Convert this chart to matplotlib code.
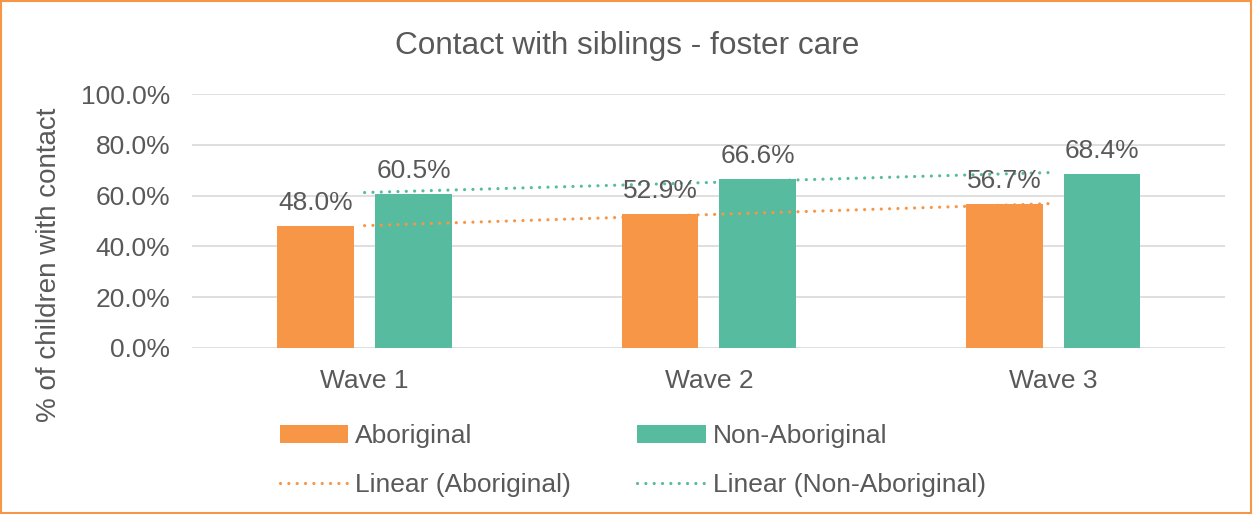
import numpy as np
import matplotlib.pyplot as plt
from matplotlib.patches import Rectangle

plt.rcParams['font.family'] = ['Liberation Sans', 'DejaVu Sans']

waves = ['Wave 1', 'Wave 2', 'Wave 3']
aboriginal = [48.0, 52.9, 56.7]
non_aboriginal = [60.5, 66.6, 68.4]
yticks = [0, 20, 40, 60, 80, 100]

c_abo = '#F79646'
c_non = '#57BB9F'
c_txt = '#595959'

fig = plt.figure(figsize=(12.54, 5.14), dpi=100)
ax = fig.add_axes([0.1535, 0.323, 0.8235, 0.494])

x = np.arange(len(waves))
w = 0.223
off = 0.142
ax.bar(x - off, aboriginal, w, color=c_abo, label='Aboriginal', zorder=2)
ax.bar(x + off, non_aboriginal, w, color=c_non, label='Non-Aboriginal', zorder=2)

# linear trend lines like excel
for vals, col, name in [(aboriginal, c_abo, 'Linear (Aboriginal)'),
                        (non_aboriginal, c_non, 'Linear (Non-Aboriginal)')]:
    k, b = np.polyfit(x, vals, 1)
    ax.plot(x, k*x + b, color=col, lw=2.3, ls=(0, (0.01, 2.6)),
            dash_capstyle='round', label=name, zorder=3)

for i in range(len(waves)):
    ax.annotate('%.1f%%' % aboriginal[i], (x[i]-off, aboriginal[i]), xytext=(0, 8),
                textcoords='offset points', ha='center', va='bottom', fontsize=19, color=c_txt)
    ax.annotate('%.1f%%' % non_aboriginal[i], (x[i]+off, non_aboriginal[i]), xytext=(0, 8),
                textcoords='offset points', ha='center', va='bottom', fontsize=19, color=c_txt)

ax.set_xlim(-0.5, 2.5)
ax.set_ylim(0, 100)
ax.set_yticks(yticks)
ax.set_yticklabels(['%.1f%%' % v for v in yticks])
ax.set_xticks(x)
ax.set_xticklabels(waves)
ax.tick_params(axis='both', length=0, labelsize=19, labelcolor=c_txt)
ax.tick_params(axis='y', pad=16)
ax.tick_params(axis='x', pad=15)
ax.grid(axis='y', color='#D9D9D9', lw=1.2, zorder=0)
for s in ax.spines.values():
    s.set_visible(False)
ax.set_ylabel('% of children with contact', fontsize=20, color=c_txt)
ax.yaxis.set_label_coords(-0.126, 0.327)

fig.text(0.5, 0.91, 'Contact with siblings - foster care', ha='center', va='center',
         fontsize=22.7, color=c_txt)

h, l = ax.get_legend_handles_labels()
order = [l.index('Aboriginal'), l.index('Linear (Aboriginal)'),
         l.index('Non-Aboriginal'), l.index('Linear (Non-Aboriginal)')]
fig.legend([h[i] for i in order], [l[i] for i in order], ncol=2, frameon=False,
           loc='upper left', bbox_to_anchor=(0.2125, 0.2), fontsize=19,
           labelcolor=c_txt, handlelength=2.6, handletextpad=0.27,
           columnspacing=2.5, labelspacing=0.95, borderpad=0)

fig.patches.append(Rectangle((0.001, 0.001), 0.997, 0.997, transform=fig.transFigure,
                             fill=False, edgecolor=c_abo, lw=1.5))

plt.savefig('out.png', dpi=100)
plt.close()
